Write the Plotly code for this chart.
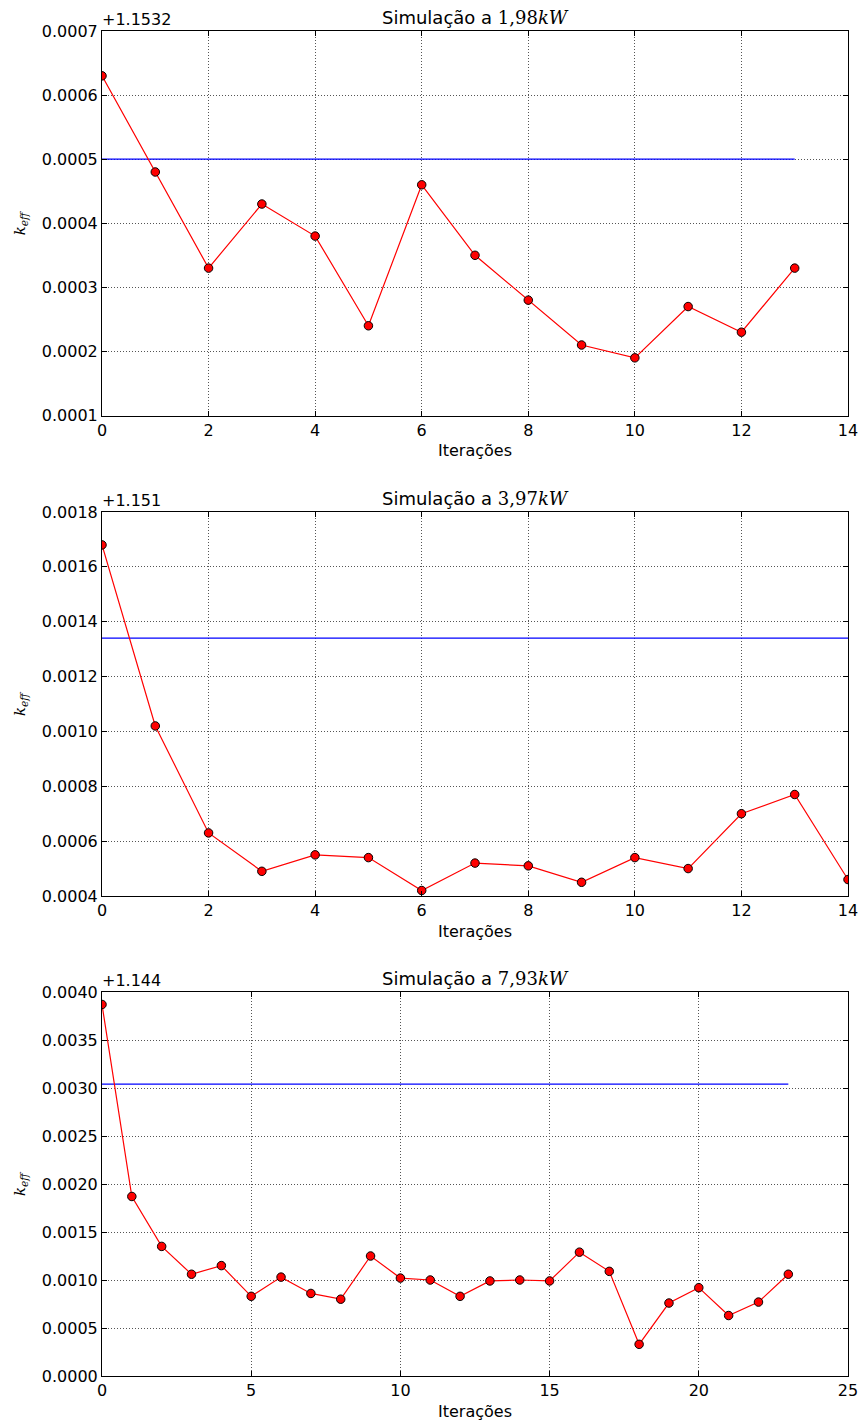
import plotly.graph_objects as go

# ---------------- data (offsets relative to the axis offset text) ----------------
iter1 = list(range(14))
keff1 = [0.00063, 0.00048, 0.00033, 0.00043, 0.00038, 0.00024, 0.00046,
         0.00035, 0.00028, 0.00021, 0.00019, 0.00027, 0.00023, 0.00033]
ref1 = 0.0005
offset1 = "+1.1532"
title1 = "1,98"

iter2 = list(range(15))
keff2 = [0.00168, 0.00102, 0.00063, 0.00049, 0.00055, 0.00054, 0.00042, 0.00052,
         0.00051, 0.00045, 0.00054, 0.00050, 0.00070, 0.00077, 0.00046]
ref2 = 0.00134
offset2 = "+1.151"
title2 = "3,97"

iter3 = list(range(24))
keff3 = [0.00387, 0.00187, 0.00135, 0.00106, 0.00115, 0.00083, 0.00103, 0.00086,
         0.00080, 0.00125, 0.00102, 0.00100, 0.00083, 0.00099, 0.00100, 0.00099,
         0.00129, 0.00109, 0.00033, 0.00076, 0.00092, 0.00063, 0.00077, 0.00106]
ref3 = 0.00304
offset3 = "+1.144"
title3 = "7,93"

xranges = [[0, 14], [0, 14], [0, 25]]
xdticks = [2, 2, 5]
yranges = [[0.0001, 0.0007], [0.0004, 0.0018], [0.0, 0.0040]]
ydticks = [0.0001, 0.0002, 0.0005]

# ---------------- layout geometry ----------------
W, H = 859, 1423
ML, MR, MT, MB = 102, 11, 31, 47
PH = H - MT - MB
def frac(ypix):
    return (H - MB - ypix) / PH

domains = [[frac(415.5), 1.0], [frac(896), frac(512)], [0.0, frac(992)]]

FONT = "DejaVu Sans, Verdana, sans-serif"
SERIF = "DejaVu Serif, Liberation Serif, serif"

fig = go.Figure()

panels = [
    (iter1, keff1, ref1, offset1, title1),
    (iter2, keff2, ref2, offset2, title2),
    (iter3, keff3, ref3, offset3, title3),
]

annotations = []
for i, (xs, ys, ref, off, tval) in enumerate(panels):
    n = "" if i == 0 else str(i + 1)
    xa, ya = "x" + n, "y" + n
    fig.add_trace(go.Scatter(
        x=[xs[0], xs[-1]], y=[ref, ref], mode="lines",
        line=dict(color="#0000ff", width=1.2), xaxis=xa, yaxis=ya,
        showlegend=False, hoverinfo="skip"))
    fig.add_trace(go.Scatter(
        x=xs, y=ys, mode="lines+markers",
        line=dict(color="#ff0000", width=1.2),
        marker=dict(color="#ff0000", size=8.5, line=dict(color="#000000", width=1)),
        xaxis=xa, yaxis=ya, showlegend=False))

    common = dict(showline=True, linecolor="black", linewidth=1, mirror="allticks",
                  ticks="inside", ticklen=5, tickcolor="black", tickwidth=1,
                  showgrid=True, gridcolor="#555555", gridwidth=1, griddash="1px,2px",
                  zeroline=False, automargin=False,
                  tickfont=dict(family=FONT, size=16, color="black"))
    fig.layout["xaxis" + n] = dict(
        domain=[0, 1], anchor=ya, range=xranges[i], tick0=0, dtick=xdticks[i],
        title=dict(text="Iterações", font=dict(family=FONT, size=16, color="black"),
                   standoff=6),
        **common)
    fig.layout["yaxis" + n] = dict(
        domain=domains[i], anchor=xa, range=yranges[i], tick0=0, dtick=ydticks[i],
        tickformat=".4f", **common)

    top = domains[i][1]
    annotations.append(dict(
        xref="paper", yref="paper", x=0.5, y=top, xanchor="center", yanchor="bottom",
        yshift=1, showarrow=False,
        text=("Simulação a <span style='font-family:" + SERIF + "'>" + tval +
              "<i>kW</i></span>"),
        font=dict(family=FONT, size=18, color="black")))
    annotations.append(dict(
        xref="paper", yref="paper", x=0, y=top, xanchor="left", yanchor="bottom",
        yshift=0, xshift=-2, showarrow=False, text=off,
        font=dict(family=FONT, size=16, color="black")))
    mid = (domains[i][0] + domains[i][1]) / 2
    annotations.append(dict(
        xref="paper", yref="paper", x=0, y=mid, xanchor="center", yanchor="middle",
        xshift=-82, showarrow=False, textangle=-90,
        text="<i>k</i><sub><i>eff</i></sub>",
        font=dict(family=SERIF, size=15, color="black")))

fig.update_layout(
    width=W, height=H, autosize=False,
    margin=dict(l=ML, r=MR, t=MT, b=MB, pad=0, autoexpand=False),
    paper_bgcolor="white", plot_bgcolor="white",
    font=dict(family=FONT, size=16, color="black"),
    annotations=annotations,
)

fig.write_html("out.html")
